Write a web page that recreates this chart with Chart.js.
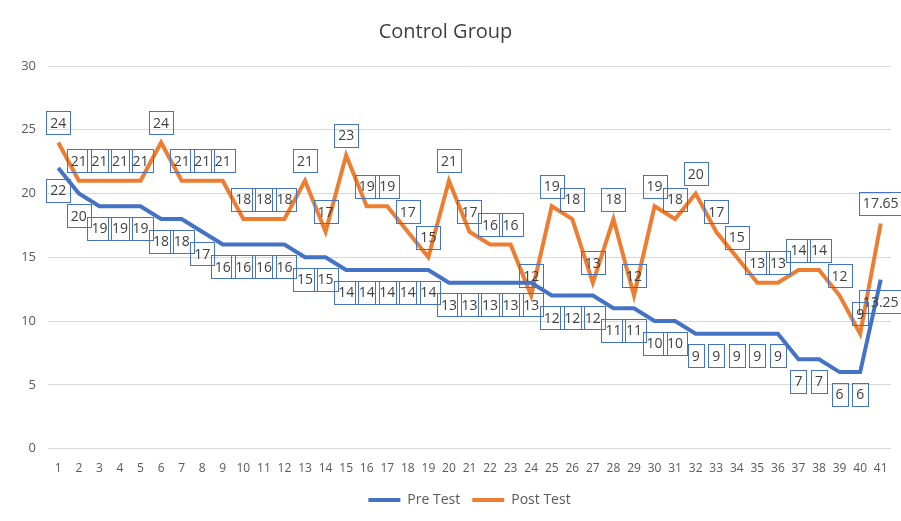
<!DOCTYPE html>
<html>
<head>
<meta charset="utf-8">
<script src="https://cdn.jsdelivr.net/npm/chart.js@4/dist/chart.umd.min.js"></script>
<style>
  html, body { margin: 0; padding: 0; background: #fff; }
  #wrap { width: 901px; height: 521px; }
</style>
</head>
<body>
<div id="wrap"><canvas id="chart"></canvas></div>
<script>
const labels = Array.from({ length: 41 }, (_, i) => String(i + 1));
const preTest = [22, 20, 19, 19, 19, 18, 18, 17, 16, 16, 16, 16, 15, 15, 14, 14, 14, 14, 14, 13,
  13, 13, 13, 13, 12, 12, 12, 11, 11, 10, 10, 9, 9, 9, 9, 9, 7, 7, 6, 6, 13.25];
const postTest = [24, 21, 21, 21, 21, 24, 21, 21, 21, 18, 18, 18, 21, 17, 23, 19, 19, 17, 15, 21,
  17, 16, 16, 12, 19, 18, 13, 18, 12, 19, 18, 20, 17, 15, 13, 13, 14, 14, 12, 9, 17.65];

const FONT = "'Open Sans', 'Noto Sans', sans-serif";

// boxed value labels, pre test below the line and post test above it
const boxLabels = {
  id: "boxLabels",
  afterDatasetsDraw(chart) {
    const ctx = chart.ctx;
    ctx.save();
    ctx.font = "14px " + FONT;
    ctx.textAlign = "center";
    ctx.textBaseline = "middle";
    chart.data.datasets.forEach((ds, di) => {
      const meta = chart.getDatasetMeta(di);
      const offset = di === 0 ? 22 : -20;
      meta.data.forEach((pt, i) => {
        const txt = String(ds.data[i]);
        const w = ctx.measureText(txt).width + 8;
        const h = 23;
        const x = pt.x;
        const y = pt.y + offset;
        ctx.strokeStyle = "#4472C4";
        ctx.lineWidth = 1;
        ctx.strokeRect(Math.round(x - w / 2) + 0.5, Math.round(y - h / 2) + 0.5, Math.round(w), h);
        ctx.fillStyle = "#404040";
        ctx.fillText(txt, x, y + 1);
      });
    });
    ctx.restore();
  }
};

new Chart(document.getElementById("chart"), {
  type: "line",
  data: {
    labels: labels,
    datasets: [
      { label: "Pre Test", data: preTest, borderColor: "#4472C4", backgroundColor: "#4472C4",
        borderWidth: 4, pointRadius: 0, tension: 0 },
      { label: "Post Test", data: postTest, borderColor: "#ED7D31", backgroundColor: "#ED7D31",
        borderWidth: 4, pointRadius: 0, tension: 0 }
    ]
  },
  options: {
    responsive: true,
    maintainAspectRatio: false,
    animation: false,
    layout: { padding: { left: 0, right: 10, top: 0, bottom: 4 } },
    plugins: {
      title: {
        display: true,
        text: "Control Group",
        color: "#404040",
        font: { family: FONT, size: 20, weight: "normal" },
        padding: { top: 20, bottom: 22 }
      },
      legend: {
        position: "bottom",
        fullSize: false,
        labels: {
          usePointStyle: true,
          pointStyle: "line",
          pointStyleWidth: 32,
          color: "#595959",
          font: { family: FONT, size: 14 },
          padding: 12
        }
      },
      tooltip: { enabled: false }
    },
    scales: {
      x: {
        offset: true,
        grid: { display: false },
        border: { display: false },
        ticks: { color: "#595959", font: { family: FONT, size: 12 }, autoSkip: false, maxRotation: 0, padding: 5 }
      },
      y: {
        min: 0,
        max: 30,
        afterFit(scale) { scale.width = 48; },
        grid: { color: "#d9d9d9", drawTicks: false },
        border: { display: false },
        ticks: { stepSize: 5, color: "#595959", font: { family: FONT, size: 13 }, padding: 12 }
      }
    }
  },
  plugins: [boxLabels]
});
</script>
</body>
</html>
